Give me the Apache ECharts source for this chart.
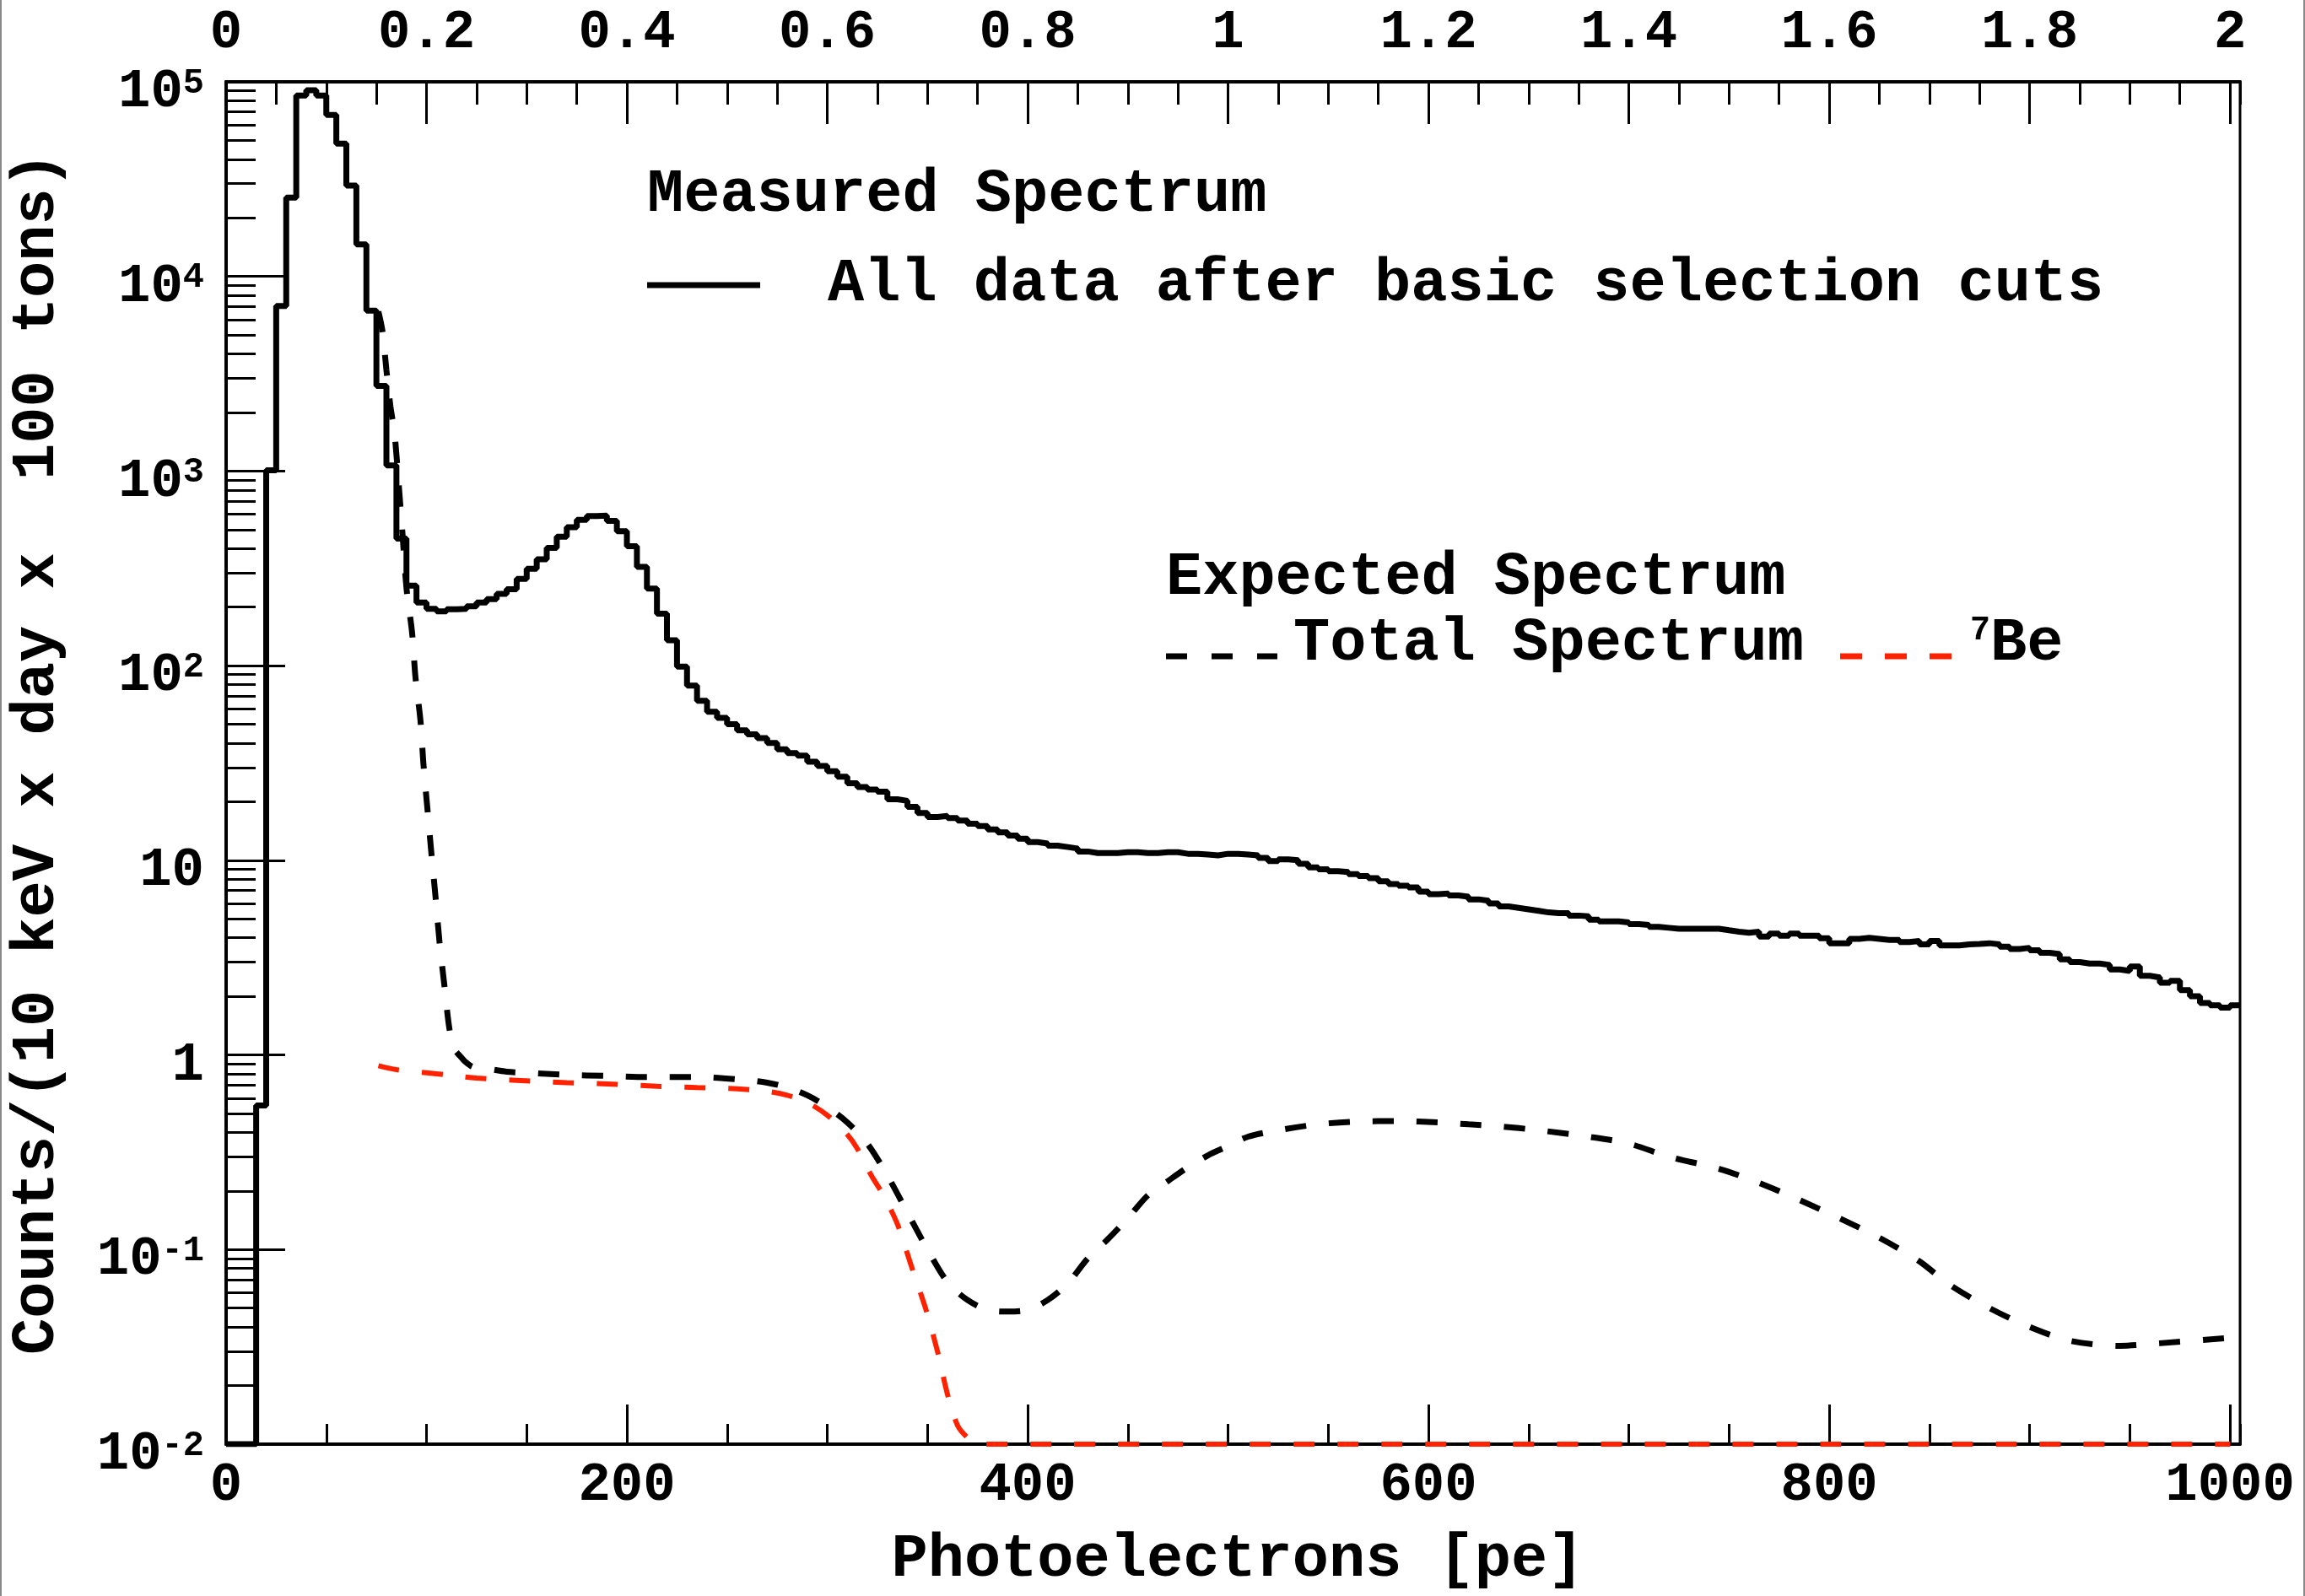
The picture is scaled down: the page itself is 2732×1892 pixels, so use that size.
<!DOCTYPE html>
<html><head><meta charset="utf-8">
<script src="https://cdn.jsdelivr.net/npm/echarts@6/dist/echarts.min.js"></script>
<style>html,body{margin:0;padding:0;background:#fff;} #c{width:2732px;height:1892px;}</style>
</head><body><div id="c"></div><script>
const FONT = '"Liberation Mono", "DejaVu Sans Mono", monospace';

// ---- axes ----
const X_MIN = 0, X_MAX = 1005;          // photoelectrons
const PE_PER_MEV = 500;                 // top axis: energy [MeV] = pe / 500
const Y_MIN = 0.01, Y_MAX = 1e5;
const BIN_WIDTH = 5;                    // pe per histogram bin

// ---- measured spectrum: counts per 5-pe bin, bins start at 0 pe ----
const measuredCounts = [
  0, 0, 0, 0.55, 1010, 7050, 25400, 85000, 90600, 85000,
  67600, 48200, 29300, 14600, 6680, 2740, 1070, 450, 258, 211,
  196, 190, 195, 196, 202, 211, 220, 234, 247, 279,
  315, 352, 403, 460, 514, 562, 587, 590, 555, 491,
  411, 322, 249, 185, 135, 99, 79, 66, 58, 54,
  50, 46.5, 44.4, 42.5, 40.1, 37.2, 35.6, 34.5, 32.1, 30.5,
  28.7, 26.9, 24.9, 23.8, 23.1, 22.5, 20.6, 20.2, 18.8, 17.5,
  16.7, 16.9, 16.5, 16.0, 15.4, 15.0, 14.4, 13.9, 13.4, 12.9,
  12.4, 12.2, 11.9, 11.7, 11.5, 11.1, 10.9, 10.9, 10.9, 11.0,
  11.0, 10.9, 10.9, 11.0, 11.0, 10.8, 10.8, 10.7, 10.6, 10.8,
  10.8, 10.7, 10.6, 10.3, 9.9, 10.1, 10.0, 9.6, 9.2, 9.0,
  8.8, 8.7, 8.5, 8.3, 8.1, 7.8, 7.55, 7.4, 7.25, 6.9,
  6.7, 6.75, 6.6, 6.5, 6.3, 6.2, 6.0, 5.8, 5.7, 5.6,
  5.5, 5.4, 5.35, 5.35, 5.2, 5.15, 4.95, 4.85, 4.85, 4.8,
  4.7, 4.65, 4.55, 4.5, 4.45, 4.45, 4.45, 4.45, 4.45, 4.37,
  4.3, 4.24, 4.3, 4.06, 4.2, 4.1, 4.2, 4.1, 4.1, 3.98,
  3.75, 3.75, 3.95, 4.0, 3.95, 3.9, 3.9, 3.8, 3.85, 3.7,
  3.85, 3.65, 3.65, 3.7, 3.72, 3.75, 3.7, 3.6, 3.5, 3.55,
  3.45, 3.35, 3.3, 3.1, 3.0, 2.95, 2.95, 2.9, 2.75, 2.7,
  2.85, 2.55, 2.5, 2.35, 2.4, 2.15, 2.0, 1.85, 1.8, 1.75,
  1.8
];

// ---- expected total spectrum (black dashed) ----
const totalPe  = [76, 78, 80, 82, 84, 86, 88, 90, 92.8, 94.5, 97, 98.5, 100.5, 102.5, 104.5, 106.5, 109, 111.5, 114, 117, 119, 123, 130, 140, 150, 170, 190, 210, 235, 255, 270, 280, 290, 300, 310, 320, 330, 340, 350, 360, 370, 380, 390, 400, 410, 420, 430, 440, 450, 460, 470, 480, 490, 500, 510, 525, 545, 565, 585, 605, 620, 635, 655, 680, 700, 720, 745, 765, 785, 805, 825, 845, 860, 880, 900, 920, 945, 965, 997];
const totalVal = [6600, 5250, 3300, 2150, 1580, 890, 480, 251, 148, 87, 52, 31, 18.2, 10.7, 6.5, 3.8, 2.24, 1.35, 1.07, 0.98, 0.93, 0.87, 0.85, 0.82, 0.81, 0.79, 0.78, 0.77, 0.77, 0.75, 0.72, 0.68, 0.62, 0.54, 0.45, 0.35, 0.24, 0.155, 0.1, 0.068, 0.055, 0.049, 0.048, 0.049, 0.055, 0.067, 0.09, 0.113, 0.145, 0.19, 0.225, 0.265, 0.305, 0.34, 0.38, 0.41, 0.44, 0.455, 0.457, 0.45, 0.44, 0.43, 0.41, 0.38, 0.35, 0.30, 0.26, 0.22, 0.18, 0.145, 0.115, 0.087, 0.066, 0.05, 0.04, 0.034, 0.032, 0.033, 0.035];

// ---- expected 7Be spectrum (red dashed) ----
const bePe  = [76, 85, 100, 110, 125, 145, 170, 190, 215, 235, 255, 270, 280, 290, 300, 310, 315, 322, 328, 335, 342, 349, 355, 360, 365, 370, 375, 1000];
const beVal = [0.88, 0.84, 0.81, 0.79, 0.76, 0.74, 0.72, 0.71, 0.69, 0.68, 0.67, 0.65, 0.62, 0.57, 0.49, 0.39, 0.33, 0.24, 0.19, 0.135, 0.082, 0.05, 0.03, 0.018, 0.0125, 0.0108, 0.01, 0.01];

// ---- texts ----
const yTitle = 'Counts/(10 keV x day x  100 tons)';
const xTitle = 'Photoelectrons [pe]';
const legendHeader1 = 'Measured Spectrum';
const legendMeasured = 'All data after basic selection cuts';
const legendHeader2 = 'Expected Spectrum';
const legendTotal = 'Total Spectrum';

// histogram as step points (left bin edges), zero bins drawn on the frame floor
const measuredData = measuredCounts.map((v, i) => [i * BIN_WIDTH, v > 0 ? v : Y_MIN]);
measuredData.push([measuredCounts.length * BIN_WIDTH, measuredCounts[measuredCounts.length - 1]]);
const totalData = totalPe.map((x, i) => [x, totalVal[i]]);
const beData = bePe.map((x, i) => [x, beVal[i]]);

// log-axis minor tick positions (in decades)
const minorLog = [];
for (let n = -2; n < 5; n++) for (let k = 2; k <= 9; k++) minorLog.push(n + Math.log10(k));

const G = { left: 268, top: 97, width: 2387, height: 1615 };
const black = '#000';
const red = '#ff2200';
const labelFont = { fontFamily: FONT, fontWeight: 'bold', fontSize: 64, color: black };

const chart = echarts.init(document.getElementById('c'), null, { renderer: 'canvas' });
chart.setOption({
  animation: false,
  backgroundColor: '#fff',
  grid: { left: G.left, top: G.top, width: G.width, height: G.height, show: true, borderColor: black, borderWidth: 3, backgroundColor: 'transparent' },
  xAxis: [
    { type: 'value', position: 'bottom', min: X_MIN, max: X_MAX, interval: 200,
      axisLine: { onZero: false, lineStyle: { color: black, width: 4 } },
      axisTick: { inside: true, length: 47, lineStyle: { color: black, width: 3 } },
      axisLabel: Object.assign({ margin: 18, showMaxLabel: false, formatter: v => String(v) }, labelFont),
      splitLine: { show: false } },
    { type: 'value', position: 'bottom', min: X_MIN, max: X_MAX, interval: 50,
      axisLine: { show: false, onZero: false },
      axisTick: { inside: true, length: 24, lineStyle: { color: black, width: 3 } },
      axisLabel: { show: false }, splitLine: { show: false } },
    { type: 'value', position: 'top', min: X_MIN / PE_PER_MEV, max: X_MAX / PE_PER_MEV, interval: 0.2,
      axisLine: { onZero: false, lineStyle: { color: black, width: 4 } },
      axisTick: { inside: true, length: 50, lineStyle: { color: black, width: 3 } },
      axisLabel: Object.assign({ margin: 25, showMaxLabel: false,
        formatter: v => String(Math.round(v * 10) / 10) }, labelFont),
      splitLine: { show: false } },
    { type: 'value', position: 'top', min: X_MIN / PE_PER_MEV, max: X_MAX / PE_PER_MEV, interval: 0.05,
      axisLine: { show: false, onZero: false },
      axisTick: { inside: true, length: 27, lineStyle: { color: black, width: 3 } },
      axisLabel: { show: false }, splitLine: { show: false } }
  ],
  yAxis: [
    { type: 'log', logBase: 10, min: Y_MIN, max: Y_MAX, position: 'left',
      axisLine: { onZero: false, lineStyle: { color: black, width: 4 } },
      axisTick: { inside: true, length: 70, lineStyle: { color: black, width: 3 } },
      axisLabel: {
        margin: 26, padding: [26, 0, 0, 0],
        formatter: v => {
          const e = Math.round(Math.log10(v));
          if (e === 0) return '{b|1}';
          if (e === 1) return '{b|10}';
          return '{b|10}{s|' + e + '}';
        },
        rich: {
          b: { fontFamily: FONT, fontWeight: 'bold', fontSize: 64, color: black, lineHeight: 64 },
          s: { fontFamily: FONT, fontWeight: 'bold', fontSize: 42, color: black, verticalAlign: 'top', lineHeight: 30 }
        }
      },
      splitLine: { show: false } },
    { type: 'value', min: -2, max: 5, position: 'left',
      axisLine: { show: false, onZero: false },
      axisTick: { inside: true, length: 35, customValues: minorLog, lineStyle: { color: black, width: 3 } },
      axisLabel: { show: false }, splitLine: { show: false } }
  ],
  series: [
    { name: 'measured', type: 'line', xAxisIndex: 0, yAxisIndex: 0, step: 'end', showSymbol: false, symbol: 'none',
      data: measuredData, clip: true, z: 3,
      lineStyle: { color: black, width: 7 } },
    { name: 'total', type: 'line', xAxisIndex: 0, yAxisIndex: 0, smooth: 0.3, showSymbol: false, symbol: 'none',
      data: totalData, clip: true, z: 4,
      lineStyle: { color: black, width: 7, type: [25, 27] } },
    { name: 'be7', type: 'line', xAxisIndex: 0, yAxisIndex: 0, smooth: 0.3, showSymbol: false, symbol: 'none',
      data: beData, clip: false, z: 5,
      lineStyle: { color: red, width: 6, type: [25, 27] } }
  ],
  graphic: [
    { type: 'line', shape: { x1: 1, y1: 0, x2: 1, y2: 1892 }, style: { stroke: '#888', lineWidth: 2 } },
    { type: 'line', shape: { x1: 2731, y1: 0, x2: 2731, y2: 1892 }, style: { stroke: '#888', lineWidth: 2 } },
    { type: 'text', x: 45, y: 893, rotation: Math.PI / 2,
      style: { text: yTitle, font: 'bold 72px ' + FONT, fill: black, align: 'center', verticalAlign: 'middle' } },
    { type: 'text', x: 1467, y: 1850,
      style: { text: xTitle, font: 'bold 72px ' + FONT, fill: black, align: 'center', verticalAlign: 'middle' } },
    { type: 'text', x: 767, y: 232,
      style: { text: legendHeader1, font: 'bold 72px ' + FONT, fill: black, align: 'left', verticalAlign: 'middle' } },
    { type: 'line', shape: { x1: 767, y1: 338, x2: 901, y2: 338 }, style: { stroke: black, lineWidth: 7 } },
    { type: 'text', x: 981, y: 338,
      style: { text: legendMeasured, font: 'bold 72px ' + FONT, fill: black, align: 'left', verticalAlign: 'middle' } },
    { type: 'text', x: 1382, y: 686,
      style: { text: legendHeader2, font: 'bold 72px ' + FONT, fill: black, align: 'left', verticalAlign: 'middle' } },
    { type: 'line', shape: { x1: 1382, y1: 778, x2: 1514, y2: 778 }, style: { stroke: black, lineWidth: 7, lineDash: [25, 29] } },
    { type: 'text', x: 1533, y: 764,
      style: { text: legendTotal, font: 'bold 72px ' + FONT, fill: black, align: 'left', verticalAlign: 'middle' } },
    { type: 'line', shape: { x1: 2181, y1: 778, x2: 2314, y2: 778 }, style: { stroke: red, lineWidth: 7, lineDash: [26, 27] } },
    { type: 'text', x: 2335, y: 764,
      style: { text: '{s|7}{b|Be}', font: 'bold 72px ' + FONT, fill: black, align: 'left', verticalAlign: 'middle',
        rich: { s: { font: 'bold 40px ' + FONT, fill: black, verticalAlign: 'top', lineHeight: 30 },
                b: { font: 'bold 72px ' + FONT, fill: black, lineHeight: 72 } } } }
  ]
});
</script></body></html>
